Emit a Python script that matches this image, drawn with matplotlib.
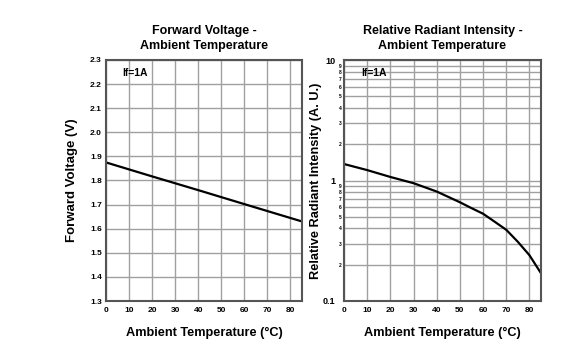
import matplotlib
matplotlib.use("Agg")
import matplotlib.pyplot as plt
from matplotlib.ticker import FixedLocator, FixedFormatter

plt.rcParams['font.family'] = ['Liberation Sans', 'DejaVu Sans']
plt.rcParams['font.weight'] = 'bold'

# Data
temp_vf = [0, 20, 40, 60, 85]
vf = [1.875, 1.817, 1.760, 1.702, 1.630]

temp_ri = [0, 10, 20, 30, 40, 50, 55, 60, 65, 70, 75, 80, 85]
ri = [1.37, 1.22, 1.07, 0.95, 0.81, 0.66, 0.59, 0.53, 0.455, 0.39, 0.31, 0.24, 0.17]

x_ticks = [0, 10, 20, 30, 40, 50, 60, 70, 80]
vf_ticks = [1.3, 1.4, 1.5, 1.6, 1.7, 1.8, 1.9, 2.0, 2.1, 2.2, 2.3]
ri_major = [0.1, 1, 10]
ri_major_labels = ['0.1', '1', '10']
ri_minor = [0.2, 0.3, 0.4, 0.5, 0.6, 0.7, 0.8, 0.9, 2, 3, 4, 5, 6, 7, 8, 9]
ri_minor_labels = ['2', '3', '4', '5', '6', '7', '8', '9'] * 2

fig = plt.figure(figsize=(5.81, 3.59), dpi=100)
ax1 = fig.add_axes([106/581, 1-301/359, 196/581, 241/359])
ax2 = fig.add_axes([344/581, 1-301/359, 197/581, 241/359])

grid_col = '#a0a0a0'
frame_col = '#555555'

for ax in (ax1, ax2):
    ax.set_xlim(0, 85)
    ax.set_xticks(x_ticks)
    ax.tick_params(axis='both', which='both', length=0, labelsize=6)
    ax.tick_params(axis='x', pad=4)
    ax.grid(True, which='major', color=grid_col, linewidth=1.0)
    for s in ax.spines.values():
        s.set_color(frame_col)
        s.set_linewidth(1.5)
    ax.set_axisbelow(True)
    ax.set_xlabel('Ambient Temperature (°C)', fontsize=9.2, fontweight='bold', labelpad=10)

# Left chart
ax1.plot(temp_vf, vf, color='black', linewidth=1.6)
ax1.set_ylim(1.3, 2.3)
ax1.set_yticks(vf_ticks)
ax1.set_yticklabels([f'{v:.1f}' for v in vf_ticks])
ax1.tick_params(axis='y', pad=3)
ax1.set_ylabel('Forward Voltage (V)', fontsize=9.5, fontweight='bold', labelpad=8.5)
ax1.set_title('Forward Voltage -\nAmbient Temperature', fontsize=9, fontweight='bold',
              pad=8, linespacing=1.3)
ax1.text(7.2, 2.246, 'If=1A', fontsize=7.5, fontweight='bold', ha='left', va='center')

# Right chart
ax2.plot(temp_ri, ri, color='black', linewidth=1.6)
ax2.set_yscale('log')
ax2.set_ylim(0.1, 10)
ax2.yaxis.set_major_locator(FixedLocator(ri_major))
ax2.yaxis.set_major_formatter(FixedFormatter(ri_major_labels))
ax2.yaxis.set_minor_locator(FixedLocator(ri_minor))
ax2.yaxis.set_minor_formatter(FixedFormatter(ri_minor_labels))
ax2.tick_params(axis='y', which='major', labelsize=6.5, pad=6)
ax2.tick_params(axis='y', which='minor', labelsize=3.5, pad=2)
ax2.grid(True, which='minor', axis='y', color=grid_col, linewidth=1.0)
ax2.set_ylabel('Relative Radiant Intensity (A. U.)', fontsize=9.2, fontweight='bold', labelpad=1)
ax2.set_title('Relative Radiant Intensity -\nAmbient Temperature', fontsize=9, fontweight='bold',
              pad=8, linespacing=1.3)
ax2.text(7.6, 7.8, 'If=1A', fontsize=7.5, fontweight='bold', ha='left', va='center')

fig.savefig('out.png', dpi=100)
